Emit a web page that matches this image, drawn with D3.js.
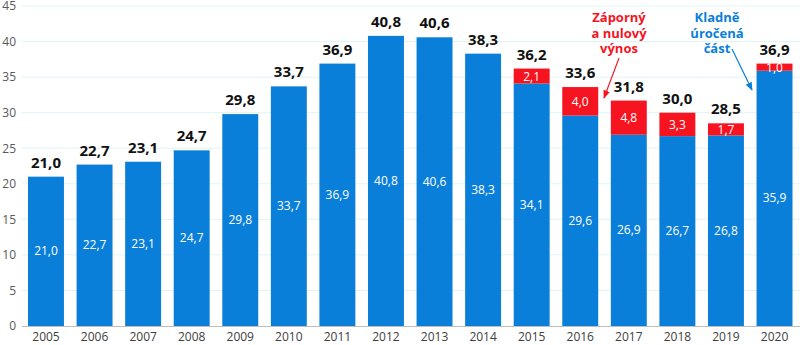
<!DOCTYPE html>
<html><head><meta charset="utf-8">
<script src="https://cdn.jsdelivr.net/npm/d3@7"></script>
<style>body{margin:0;background:#fff}svg{display:block}text{font-family:"Open Sans","Noto Sans",sans-serif}</style>
</head><body><svg id="c" width="800" height="345"></svg>
<script>
const years = ["2005","2006","2007","2008","2009","2010","2011","2012","2013","2014","2015","2016","2017","2018","2019","2020"];
const positive = [21.0,22.7,23.1,24.7,29.8,33.7,36.9,40.8,40.6,38.3,34.1,29.6,26.9,26.7,26.8,35.9];
const negative = [0,0,0,0,0,0,0,0,0,0,2.1,4.0,4.8,3.3,1.7,1.0];
const totals = [21.0,22.7,23.1,24.7,29.8,33.7,36.9,40.8,40.6,38.3,36.2,33.6,31.8,30.0,28.5,36.9];
const yTicks = [0,5,10,15,20,25,30,35,40,45];

const svg = d3.select("#c");
const fmt = v => v.toFixed(1).replace(".", ",");
const x = d3.scaleBand().domain(years).range([21.7, 798.8]).paddingInner(0.26).paddingOuter(0.13);
const y = d3.scaleLinear().domain([0,45]).range([326,6]);
const BLUE = "#0a7fd9", RED = "#f5141f";

// grid
svg.append("g").selectAll("line").data(yTicks.filter(d=>d>0)).join("line")
  .attr("x1",22).attr("x2",800).attr("y1",d=>y(d)).attr("y2",d=>y(d))
  .attr("stroke","#dff4f8").attr("stroke-width",1);

// y axis labels
const ya = svg.append("g").attr("transform","translate(16,0)").call(d3.axisLeft(y).tickValues(yTicks).tickSize(0).tickPadding(0));
ya.select(".domain").remove();
ya.selectAll("text").attr("font-size",12).attr("fill","#595959").attr("font-family","Open Sans, Noto Sans, sans-serif");

// x axis
const xa = svg.append("g").attr("transform",`translate(0,${y(0)})`).call(d3.axisBottom(x).tickSize(0).tickPadding(6));
xa.select(".domain").attr("stroke","#bfbfbf").attr("d","M22,0.5H800");
xa.selectAll("text").attr("font-size",12).attr("fill","#404040").attr("font-family","Open Sans, Noto Sans, sans-serif");

const idx = d3.range(years.length);
// blue bars
svg.append("g").selectAll("rect").data(idx).join("rect")
  .attr("x",i=>x(years[i])).attr("width",x.bandwidth())
  .attr("y",i=>y(positive[i])).attr("height",i=>y(0)-y(positive[i]))
  .attr("fill",BLUE);
// red bars
svg.append("g").selectAll("rect").data(idx.filter(i=>negative[i]>0)).join("rect")
  .attr("x",i=>x(years[i])).attr("width",x.bandwidth())
  .attr("y",i=>y(positive[i]+negative[i])).attr("height",i=>y(positive[i])-y(positive[i]+negative[i]))
  .attr("fill",RED);

// inner labels
svg.append("g").selectAll("text").data(idx).join("text")
  .attr("x",i=>x(years[i])+x.bandwidth()/2).attr("y",i=>(y(0)+y(positive[i]))/2+4)
  .attr("text-anchor","middle").attr("font-size",12).attr("fill","#fff").text(i=>fmt(positive[i]));
svg.append("g").selectAll("text").data(idx.filter(i=>negative[i]>0)).join("text")
  .attr("x",i=>x(years[i])+x.bandwidth()/2).attr("y",i=>(y(positive[i])+y(positive[i]+negative[i]))/2+4.5)
  .attr("text-anchor","middle").attr("font-size",12).attr("fill","#fff").text(i=>fmt(negative[i]));

// totals
svg.append("g").selectAll("text").data(idx).join("text")
  .attr("x",i=>x(years[i])+x.bandwidth()/2).attr("y",i=>y(positive[i]+negative[i])-9)
  .attr("text-anchor","middle").attr("font-size",15).attr("font-weight","bold").attr("fill","#111").text(i=>fmt(totals[i]));

// annotations
const defs = svg.append("defs");
[["ar",RED],["ab",BLUE]].forEach(([id,c])=>{
  defs.append("marker").attr("id",id).attr("viewBox","0 0 10 10").attr("refX",9).attr("refY",5)
   .attr("markerWidth",7).attr("markerHeight",7).attr("orient","auto")
   .append("path").attr("d","M0,1L10,5L0,9z").attr("fill",c);
});
["Záporný","a nulový","výnos"].forEach((t,k)=>svg.append("text").attr("text-anchor","middle").attr("font-size",13)
  .attr("font-weight","bold").attr("fill",RED).attr("x",619).attr("y",22+k*15.5).text(t));
svg.append("line").attr("x1",619).attr("y1",58).attr("x2",604).attr("y2",98).attr("stroke",RED).attr("stroke-width",1.2).attr("marker-end","url(#ar)");
["Kladně","úročená","část"].forEach((t,k)=>svg.append("text").attr("text-anchor","middle").attr("font-size",13)
  .attr("font-weight","bold").attr("fill",BLUE).attr("x",717).attr("y",22+k*15.5).text(t));
svg.append("line").attr("x1",732).attr("y1",49).attr("x2",752).attr("y2",90).attr("stroke",BLUE).attr("stroke-width",1.2).attr("marker-end","url(#ab)");
</script></body></html>
